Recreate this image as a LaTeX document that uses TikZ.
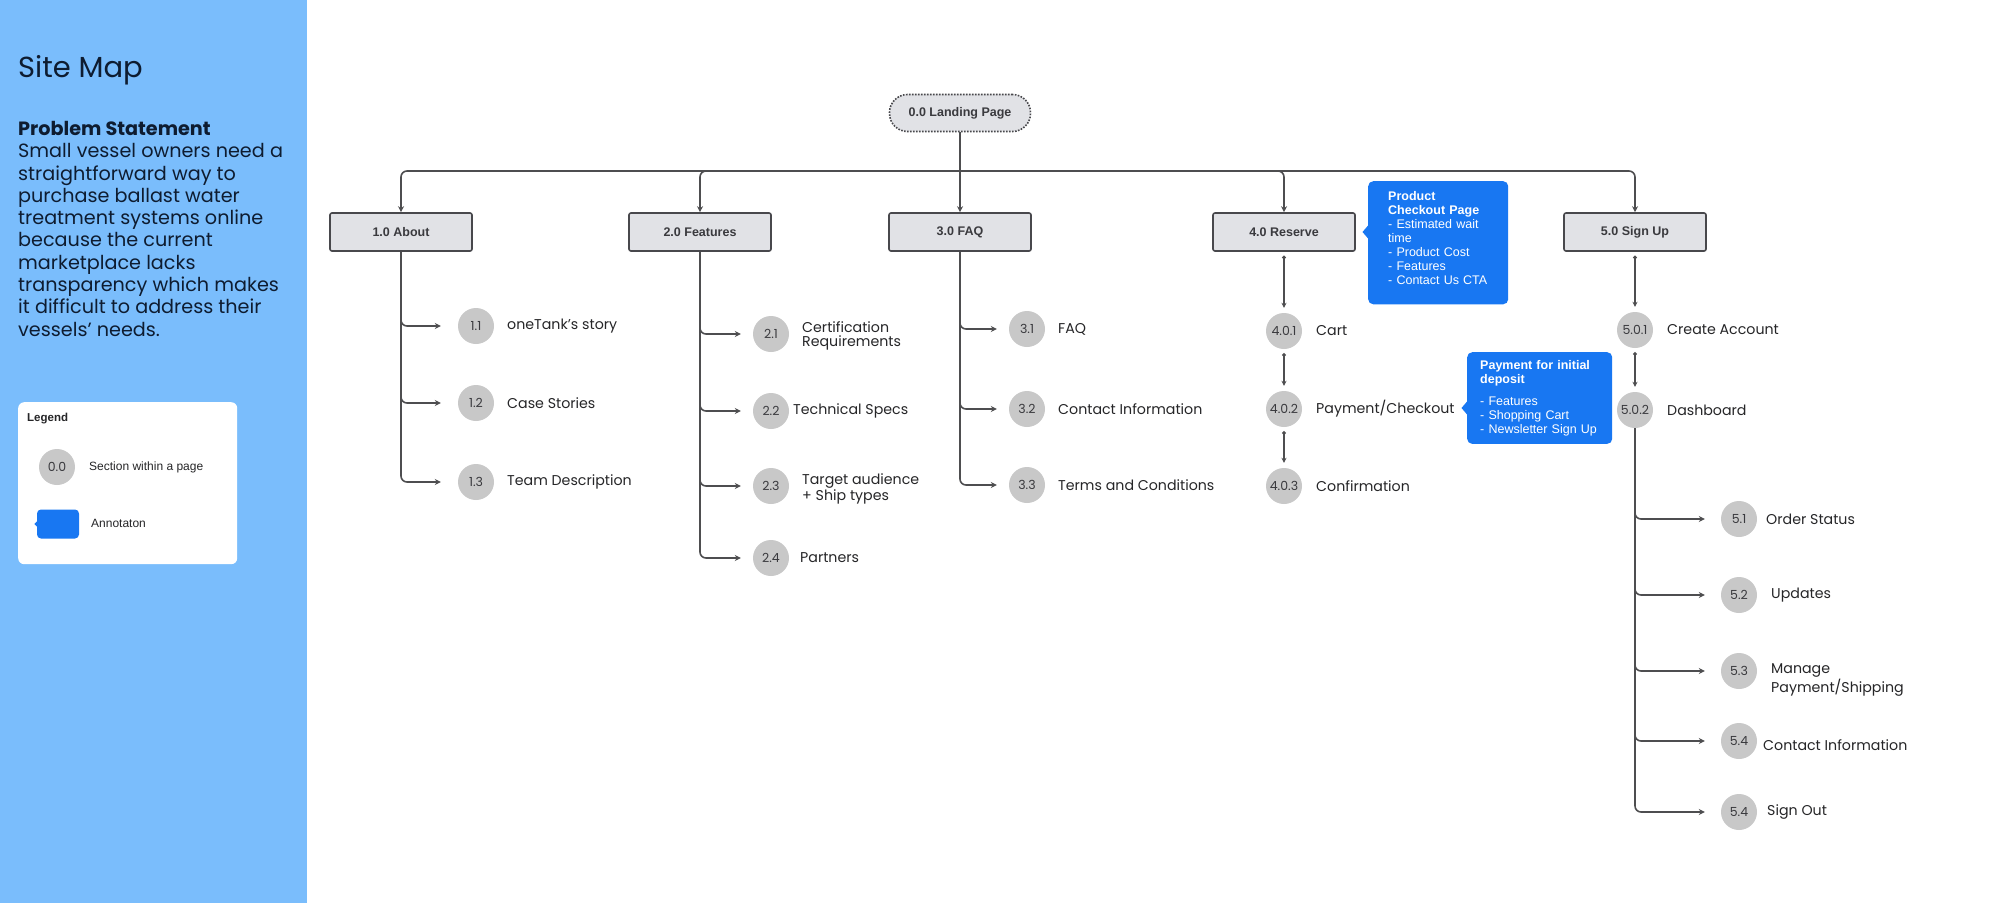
\documentclass[tikz,border=0pt]{standalone}
\usepackage{fontspec}
\setmainfont{Poppins}
\newfontfamily\uifont{Liberation Sans}
\usetikzlibrary{arrows.meta,calc}

\definecolor{panelblue}{RGB}{122,189,252}
\definecolor{boxgray}{RGB}{225,226,230}
\definecolor{boxedge}{RGB}{72,72,76}
\definecolor{boxtext}{RGB}{58,58,62}
\definecolor{dotgray}{RGB}{200,200,200}
\definecolor{noteblue}{RGB}{24,119,242}
\definecolor{ink}{RGB}{38,38,40}
\definecolor{navy}{RGB}{14,28,48}
\definecolor{linegray}{RGB}{78,78,80}

\tikzset{
	section/.style={draw=boxedge, line width=1.6pt, fill=boxgray, rounded corners=2pt, minimum width=142pt, minimum height=38pt, font=\uifont\bfseries\fontsize{12.5}{14}\selectfont, text=boxtext},
	landing/.style={section, rounded corners=18pt, dash pattern=on 1.6pt off 1.4pt, minimum width=141pt, minimum height=37pt},
	sub/.style={circle, fill=dotgray, minimum size=36pt, inner sep=0pt, font=\fontsize{12.5}{14}\selectfont, text=boxtext},
	subtext/.style={anchor=west, inner sep=0pt, align=left, font=\fontsize{14.2}{14}\selectfont, text=ink},
	link/.style={draw=linegray, line width=1.6pt, -{Stealth[length=6pt,width=6pt]}},
	branch/.style={link, rounded corners=6pt, shorten >=#1},
	branch/.default=12pt,
	chain/.style={draw=linegray, line width=1.6pt, {Circle[length=3.5pt]}-{Stealth[length=5pt,width=5pt]}, shorten <=4pt, shorten >=5pt},
	note/.style={fill=noteblue, rounded corners=5pt, text=white, align=left, anchor=north west, font=\uifont\fontsize{12.5}{14}\selectfont}
}

\begin{document}
\begin{tikzpicture}[x=1pt,y=-1pt]
		\useasboundingbox (0,0) rectangle (2000,903);
		\fill[white] (0,0) rectangle (2000,903);
		\fill[panelblue] (0,0) rectangle (307,903);

		\node[anchor=base west, inner sep=0pt, font=\fontsize{29}{29}\selectfont, text=navy] (title) at (18,77) {Site Map};
		\node[anchor=north west, inner sep=0pt, align=left, font=\fontsize{19.2}{22.3}\selectfont, text=navy] (problem) at (18,121) {\textbf{Problem Statement}\\Small vessel owners need a\\straightforward way to\\purchase ballast water\\treatment systems online\\because the current\\marketplace lacks\\transparency which makes\\it difficult to address their\\vessels’ needs.};

		\node[fill=white, rounded corners=6pt, anchor=north west, minimum width=219pt, minimum height=162pt] (legend) at (18,402) {};
		\node[anchor=west, inner sep=0pt, font=\uifont\bfseries\fontsize{11.5}{12}\selectfont, text=ink] (legendtitle) at (27,419) {Legend};
		\node[sub] (legsub) at (57,467) {0.0};
		\node[anchor=west, inner sep=0pt, font=\uifont\fontsize{12}{12}\selectfont, text=ink] (legsubtext) at (89,467) {Section within a page};
		\node[fill=noteblue, rounded corners=4pt, minimum width=42pt, minimum height=29pt, inner sep=0pt] (legnote) at (58,524) {};
		\fill[noteblue] ($(legnote.west)+(0.5,-3)$) -- ++(-3,3) -- ++(3,3) -- cycle;
		\node[anchor=west, inner sep=0pt, font=\uifont\fontsize{12}{12}\selectfont, text=ink] (legnotetext) at (91,523) {Annotaton};

		\node[landing] (landing) at (960,113) {0.0 Landing Page};
		\node[section] (about) at (401,232) {1.0 About};
		\node[section] (features) at (700,232) {2.0 Features};
		\node[section] (faq) at (960,232) {3.0 FAQ};
		\node[section] (reserve) at (1284,232) {4.0 Reserve};
		\node[section] (signup) at (1635,232) {5.0 Sign Up};

		\coordinate (hub) at (960,171);
		\draw[link] (landing.south) -- (faq.north);
		\draw[link, rounded corners=6pt] (hub) -| (about.north);
		\draw[link, rounded corners=6pt] (hub) -| (features.north);
		\draw[link, rounded corners=6pt] (hub) -| (reserve.north);
		\draw[link, rounded corners=6pt] (hub) -| (signup.north);

		\node[sub] (c11) at (476,326) {1.1};
		\node[sub] (c12) at (476,403) {1.2};
		\node[sub] (c13) at (476,482) {1.3};
		\node[subtext] (t11) at (507,326) {oneTank’s story};
		\node[subtext] (t12) at (507,403) {Case Stories};
		\node[subtext] (t13) at (507,482) {Team Description};
		\draw[branch=17pt] (about.south) |- (c11);
		\draw[branch=17pt] (about.south) |- (c12);
		\draw[branch=17pt] (about.south) |- (c13);

		\node[sub] (c21) at (771,334) {2.1};
		\node[sub] (c22) at (771,411) {2.2};
		\node[sub] (c23) at (771,486) {2.3};
		\node[sub] (c24) at (771,558) {2.4};
		\node[subtext] (t21) at (802,336) {Certification\\Requirements};
		\node[subtext] (t22) at (793,411) {Technical Specs};
		\node[subtext] (t23) at (802,489) {Target audience\\+ Ship types};
		\node[subtext] (t24) at (800,558) {Partners};
		\draw[branch] (features.south) |- (c21);
		\draw[branch] (features.south) |- (c22);
		\draw[branch] (features.south) |- (c23);
		\draw[branch] (features.south) |- (c24);

		\node[sub] (c31) at (1027,329) {3.1};
		\node[sub] (c32) at (1027,409) {3.2};
		\node[sub] (c33) at (1027,485) {3.3};
		\node[subtext] (t31) at (1058,329) {FAQ};
		\node[subtext] (t32) at (1058,409) {Contact Information};
		\node[subtext] (t33) at (1058,485) {Terms and Conditions};
		\draw[branch] (faq.south) |- (c31);
		\draw[branch] (faq.south) |- (c32);
		\draw[branch] (faq.south) |- (c33);

		\node[sub] (c401) at (1284,331) {4.0.1};
		\node[sub] (c402) at (1284,409) {4.0.2};
		\node[sub] (c403) at (1284,486) {4.0.3};
		\node[subtext] (t401) at (1316,331) {Cart};
		\node[subtext] (t402) at (1316,409) {Payment/Checkout};
		\node[subtext] (t403) at (1316,486) {Confirmation};
		\draw[chain] (reserve.south) -- (c401.north);
		\draw[chain] (c401.south) -- (c402.north);
		\draw[chain] (c402.south) -- (c403.north);

		\node[note, text width=100pt, inner xsep=20pt, inner ysep=10pt] (checkout) at (1368,181) {\textbf{Product}\\\textbf{Checkout Page}\\- Estimated wait\\time\\- Product Cost\\- Features\\- Contact Us CTA\rule[-10pt]{0pt}{10pt}};
		\fill[noteblue] ($(checkout.north west)+(0.5,44)$) -- ++(-6,7) -- ++(6,7) -- cycle;
		\node[note, text width=119pt, inner xsep=13pt, inner ysep=8pt] (payment) at (1467,352) {\textbf{Payment for initial}\\\textbf{deposit}\\[8pt]- Features\\- Shopping Cart\\- Newsletter Sign Up};
		\fill[noteblue] ($(payment.north west)+(0.5,49)$) -- ++(-6,7) -- ++(6,7) -- cycle;

		\node[sub] (c501) at (1635,330) {5.0.1};
		\node[sub] (c502) at (1635,410) {5.0.2};
		\node[subtext] (t501) at (1667,330) {Create Account};
		\node[subtext] (t502) at (1667,410) {Dashboard};
		\draw[chain] (signup.south) -- (c501.north);
		\draw[chain] (c501.south) -- (c502.north);

		\node[sub] (c51) at (1739,519) {5.1};
		\node[sub] (c52) at (1739,595) {5.2};
		\node[sub] (c53) at (1739,671) {5.3};
		\node[sub] (c54) at (1739,741) {5.4};
		\node[sub] (c55) at (1739,812) {5.4};
		\node[subtext] (t51) at (1766,519) {Order Status};
		\node[subtext] (t52) at (1771,595) {Updates};
		\node[subtext] (t53) at (1771,680) {Manage\\Payment/Shipping};
		\node[subtext] (t54) at (1763,745) {Contact Information};
		\node[subtext] (t55) at (1767,812) {Sign Out};
		\draw[branch=16pt] (c502.south) |- (c51);
		\draw[branch=16pt] (c502.south) |- (c52);
		\draw[branch=16pt] (c502.south) |- (c53);
		\draw[branch=16pt] (c502.south) |- (c54);
		\draw[branch=16pt] (c502.south) |- (c55);
	\end{tikzpicture}
\end{document}
